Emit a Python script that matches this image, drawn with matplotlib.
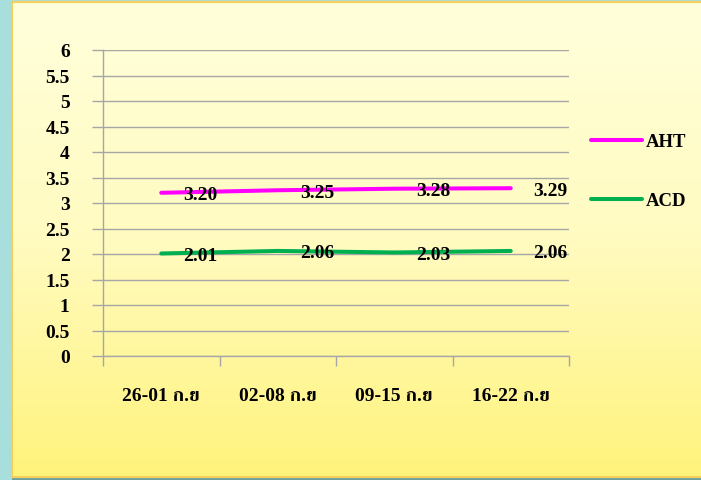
import matplotlib.pyplot as plt
import numpy as np
from matplotlib import font_manager
from matplotlib.ft2font import FT2Font
from matplotlib.colors import LinearSegmentedColormap
from matplotlib.patches import Rectangle

Categories = ['26-01 ก.ย', '02-08 ก.ย', '09-15 ก.ย', '16-22 ก.ย']
AHT = [3.20, 3.25, 3.28, 3.29]
ACD = [2.01, 2.06, 2.03, 2.06]
YTicks = [0, 0.5, 1, 1.5, 2, 2.5, 3, 3.5, 4, 4.5, 5, 5.5, 6]
YTickLabels = ['0', '0.5', '1', '1.5', '2', '2.5', '3', '3.5', '4', '4.5', '5', '5.5', '6']


def FindThaiFamily():
    """ Looks for an installed family that has Thai glyphs. """
    Found = []
    for f in font_manager.fontManager.ttflist:
        try:
            Cmap = FT2Font(f.fname).get_charmap()
        except Exception:
            continue
        if 0x0E01 in Cmap and 0x0E22 in Cmap:
            Found.append(f)
    Found.sort(key=lambda f: (f.weight != 700 and f.weight != 'bold', 'Serif' not in f.name))
    return Found[0].name if Found else None


Families = ['Liberation Serif', 'DejaVu Serif']
Thai = FindThaiFamily()
if Thai is not None:
    Families.append(Thai)
Families.append('DejaVu Sans')
plt.rcParams['font.family'] = Families
plt.rcParams['font.weight'] = 'bold'

W, H = 701, 481
FS = 14
Fig = plt.figure(figsize=(W / 100, H / 100), dpi=100)
Fig.patch.set_facecolor('#a8dedb')

# yellow panel with vertical gradient
Bg = Fig.add_axes([0, 0, 1, 1])
Bg.set_xlim(0, W)
Bg.set_ylim(H, 0)
Bg.axis('off')
Cmap = LinearSegmentedColormap.from_list('panel', ['#ffffdb', '#fffbc0', '#fff37c'])
Grad = np.linspace(0, 1, 256).reshape(-1, 1)
Bg.imshow(Grad, cmap=Cmap, aspect='auto', extent=(12, W + 5, 478, 3), zorder=1)
Bg.add_patch(Rectangle((12, 3), W, 475, fill=False, edgecolor='#f5cf5c', lw=1.5, zorder=2))
Bg.plot([13, W], [479.5, 479.5], color='#6f9f9b', lw=2, zorder=0)

Ax = Fig.add_axes([103 / W, 1 - 357 / H, (569 - 103) / W, (357 - 51) / H])
Ax.patch.set_alpha(0)

X = np.arange(len(Categories))
Ax.plot(X, AHT, color='#ff00ff', lw=2.9, solid_capstyle='round', label='AHT', zorder=3)
Ax.plot(X, ACD, color='#00b050', lw=2.9, solid_capstyle='round', label='ACD', zorder=3)

for Series in (AHT, ACD):
    for i, v in enumerate(Series):
        Ax.annotate('{0:.2f}'.format(v), (X[i], v), xytext=(22, -2), textcoords='offset pixels',
                    ha='left', va='center', fontsize=FS, fontweight='bold', zorder=4)

Ax.set_xlim(-0.5, len(Categories) - 0.5)
Ax.set_ylim(0, 6)
Ax.set_yticks(YTicks)
Ax.set_yticklabels(YTickLabels)
Ax.yaxis.grid(True, color='#a6a6a6', lw=1)
Ax.set_axisbelow(True)

Ax.set_xticks(X)
Ax.set_xticklabels(Categories)
Ax.set_xticks(np.arange(len(Categories) + 1) - 0.5, minor=True)
Ax.tick_params(axis='x', which='major', length=0, pad=22, labelsize=FS)
Ax.tick_params(axis='x', which='minor', length=7, width=1, color='#a6a6a6', direction='out')
Ax.tick_params(axis='y', length=8, width=1, color='#a6a6a6', pad=16, labelsize=FS)

for s in ('top', 'right'):
    Ax.spines[s].set_visible(False)
for s in ('left', 'bottom'):
    Ax.spines[s].set_color('#a6a6a6')
    Ax.spines[s].set_linewidth(1)

Leg = Ax.legend(loc='upper left', bbox_to_anchor=(591 / W, 1 - 134 / H), bbox_transform=Fig.transFigure,
                frameon=False, borderpad=0, borderaxespad=0, handlelength=2.7, handletextpad=0.2,
                labelspacing=2.25, prop={'size': 13.5, 'weight': 'bold'})

Fig.savefig('out.png', dpi=100, facecolor=Fig.get_facecolor())
